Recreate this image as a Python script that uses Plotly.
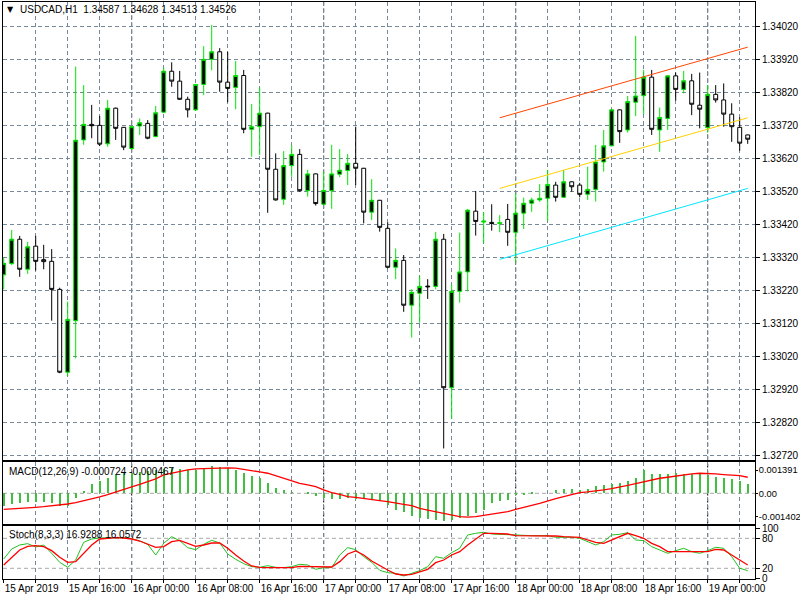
import plotly.graph_objects as go

TITLE = "USDCAD,H1  1.34587 1.34628 1.34513 1.34526"
MACD_LABEL = "MACD(12,26,9) -0.000724 -0.000467"
STOCH_LABEL = "Stoch(8,3,3) 16.9288 16.0572"

TIME_LABELS = ["15 Apr 2019", "15 Apr 16:00", "16 Apr 00:00", "16 Apr 08:00",
               "16 Apr 16:00", "17 Apr 00:00", "17 Apr 08:00", "17 Apr 16:00",
               "18 Apr 00:00", "18 Apr 08:00", "18 Apr 16:00", "19 Apr 00:00"]
BARS_PER_LABEL = 8
BARS_PER_GRID = 4
DAY_STARTS = [16, 40, 64, 88]

OPEN = [1.33268, 1.33302, 1.33376, 1.33285, 1.33355, 1.33314, 1.33309, 1.33224, 1.32973, 1.33129,
        1.33677, 1.33724, 1.33721, 1.33665, 1.33773, 1.33715, 1.33651, 1.33719, 1.33727, 1.33687,
        1.33761, 1.33885, 1.33855, 1.33800, 1.33768, 1.33845, 1.33921, 1.33944, 1.33852, 1.33836,
        1.33872, 1.33709, 1.33717, 1.33758, 1.33588, 1.33497, 1.33599, 1.33633, 1.33523, 1.33574,
        1.33482, 1.33523, 1.33573, 1.33584, 1.33606, 1.33591, 1.33458, 1.33494, 1.33409, 1.33291,
        1.33312, 1.33176, 1.33212, 1.33234, 1.33233, 1.33376, 1.32926, 1.33218, 1.33277, 1.33461,
        1.33428, 1.33427, 1.33424, 1.33436, 1.33397, 1.33455, 1.33485, 1.33495, 1.33500, 1.33540,
        1.33503, 1.33550, 1.33540, 1.33512, 1.33527, 1.33610, 1.33659, 1.33768, 1.33707, 1.33791,
        1.33811, 1.33867, 1.33707, 1.33742, 1.33871, 1.33830, 1.33856, 1.33782, 1.33714, 1.33815,
        1.33798, 1.33755, 1.33715, 1.33692]
HIGH = [1.33321, 1.33404, 1.33386, 1.33368, 1.33386, 1.33359, 1.33346, 1.33229, 1.33187, 1.33899,
        1.33843, 1.33783, 1.33749, 1.33798, 1.33775, 1.33716, 1.33719, 1.33742, 1.33737, 1.33780,
        1.33896, 1.33912, 1.33886, 1.33808, 1.33846, 1.33961, 1.34025, 1.33955, 1.33944, 1.33916,
        1.33889, 1.33786, 1.33836, 1.33759, 1.33636, 1.33643, 1.33661, 1.33649, 1.33586, 1.33575,
        1.33581, 1.33662, 1.33649, 1.33634, 1.33717, 1.33592, 1.33558, 1.33495, 1.33427, 1.33348,
        1.33328, 1.33224, 1.33265, 1.33255, 1.33398, 1.33392, 1.33239, 1.33396, 1.33468, 1.33522,
        1.33458, 1.33482, 1.33449, 1.33483, 1.33515, 1.33502, 1.33502, 1.33543, 1.33586, 1.33550,
        1.33586, 1.33551, 1.33547, 1.33596, 1.33662, 1.33707, 1.33769, 1.33769, 1.33810, 1.33992,
        1.33889, 1.33889, 1.33775, 1.33872, 1.33881, 1.33886, 1.33877, 1.33881, 1.33843, 1.33843,
        1.33848, 1.33788, 1.33745, 1.33693]
LOW = [1.33224, 1.33298, 1.33262, 1.33271, 1.33281, 1.33285, 1.33129, 1.32970, 1.32961, 1.33015,
       1.33662, 1.33682, 1.33658, 1.33656, 1.33677, 1.33646, 1.33646, 1.33692, 1.33679, 1.33685,
       1.33758, 1.33838, 1.33798, 1.33745, 1.33765, 1.33813, 1.33888, 1.33823, 1.33791, 1.33770,
       1.33697, 1.33626, 1.33631, 1.33456, 1.33493, 1.33480, 1.33565, 1.33520, 1.33505, 1.33478,
       1.33479, 1.33468, 1.33564, 1.33540, 1.33540, 1.33424, 1.33434, 1.33399, 1.33288, 1.33255,
       1.33156, 1.33078, 1.33123, 1.33195, 1.33224, 1.32742, 1.32832, 1.33184, 1.33218, 1.33387,
       1.33364, 1.33402, 1.33397, 1.33356, 1.33306, 1.33407, 1.33459, 1.33489, 1.33432, 1.33490,
       1.33502, 1.33520, 1.33503, 1.33495, 1.33490, 1.33581, 1.33658, 1.33668, 1.33699, 1.33749,
       1.33755, 1.33692, 1.33641, 1.33707, 1.33796, 1.33818, 1.33752, 1.33712, 1.33699, 1.33790,
       1.33717, 1.33671, 1.33644, 1.33665]
CLOSE = [1.33303, 1.33376, 1.33285, 1.33353, 1.33309, 1.33308, 1.33224, 1.32973, 1.33133, 1.33676,
         1.33724, 1.33720, 1.33664, 1.33773, 1.33712, 1.33655, 1.33717, 1.33729, 1.33682, 1.33759,
         1.33885, 1.33855, 1.33800, 1.33768, 1.33845, 1.33921, 1.33944, 1.33852, 1.33833, 1.33872,
         1.33709, 1.33717, 1.33758, 1.33588, 1.33495, 1.33599, 1.33633, 1.33523, 1.33574, 1.33484,
         1.33524, 1.33574, 1.33585, 1.33606, 1.33591, 1.33458, 1.33494, 1.33412, 1.33291, 1.33312,
         1.33176, 1.33215, 1.33233, 1.33232, 1.33376, 1.32926, 1.33218, 1.33277, 1.33464, 1.33430,
         1.33431, 1.33424, 1.33426, 1.33397, 1.33455, 1.33485, 1.33495, 1.33500, 1.33542, 1.33503,
         1.33550, 1.33535, 1.33512, 1.33527, 1.33610, 1.33659, 1.33768, 1.33702, 1.33793, 1.33810,
         1.33867, 1.33709, 1.33745, 1.33871, 1.33830, 1.33856, 1.33785, 1.33770, 1.33815, 1.33798,
         1.33755, 1.33717, 1.33667, 1.33679]

CHANNEL_BARS = [62, 93]
CHANNEL_UPPER = [1.33744, 1.33958]
CHANNEL_MID = [1.33530, 1.33744]
CHANNEL_LOWER = [1.33315, 1.33530]

MACD_HIST = [-0.00080, -0.00066, -0.00060, -0.00056, -0.00056, -0.00056, -0.00060, -0.00076, -0.00080, -0.00030,
             0.00010, 0.00050, 0.00070, 0.00090, 0.00110, 0.00116, 0.00120, 0.00124, 0.00130, 0.00134,
             0.00140, 0.00146, 0.00140, 0.00134, 0.00134, 0.00150, 0.00160, 0.00156, 0.00150, 0.00134,
             0.00116, 0.00100, 0.00090, 0.00060, 0.00026, 0.00014, 0.00002, 0.00000, -0.00010, -0.00020,
             -0.00030, -0.00036, -0.00036, -0.00030, -0.00036, -0.00040, -0.00040, -0.00050, -0.00075, -0.00100,
             -0.00116, -0.00136, -0.00150, -0.00156, -0.00164, -0.00166, -0.00160, -0.00150, -0.00136, -0.00120,
             -0.00100, -0.00060, -0.00050, -0.00044, -0.00016, -0.00016, -0.00006, 0.00000, 0.00000, 0.00014,
             0.00020, 0.00024, 0.00014, 0.00020, 0.00040, 0.00044, 0.00050, 0.00060, 0.00070, 0.00090,
             0.00136, 0.00110, 0.00110, 0.00110, 0.00116, 0.00110, 0.00110, 0.00110, 0.00104, 0.00096,
             0.00090, 0.00080, 0.00070, 0.00050]
MACD_SIGNAL = [-0.00096, -0.00094, -0.00092, -0.00088, -0.00084, -0.00080, -0.00076, -0.00070, -0.00064, -0.00056,
               -0.00046, -0.00036, -0.00022, -0.00008, 0.00006, 0.00020, 0.00038, 0.00054, 0.00070, 0.00086,
               0.00110, 0.00120, 0.00132, 0.00140, 0.00146, 0.00148, 0.00152, 0.00154, 0.00152, 0.00150,
               0.00144, 0.00136, 0.00128, 0.00120, 0.00104, 0.00090, 0.00074, 0.00060, 0.00050, 0.00040,
               0.00020, 0.00004, -0.00006, -0.00020, -0.00024, -0.00032, -0.00036, -0.00044, -0.00050, -0.00056,
               -0.00066, -0.00074, -0.00090, -0.00100, -0.00110, -0.00120, -0.00130, -0.00140, -0.00142, -0.00140,
               -0.00132, -0.00126, -0.00120, -0.00110, -0.00096, -0.00086, -0.00072, -0.00060, -0.00044, -0.00032,
               -0.00020, -0.00008, 0.00004, 0.00008, 0.00012, 0.00020, 0.00028, 0.00040, 0.00048, 0.00058,
               0.00070, 0.00080, 0.00090, 0.00096, 0.00104, 0.00110, 0.00116, 0.00120, 0.00120, 0.00116,
               0.00112, 0.00110, 0.00106, 0.00096]
MACD_SCALE = [0.001391, 0.0, -0.001402]
MACD_SCALE_TEXT = ["0.001391", "0.00", "-0.001402"]

STOCH_K = [38.6, 58.6, 66.6, 69.3, 62.6, 66.6, 50.0, 32.0, 22.0, 36.6,
           72.0, 78.6, 80.6, 81.3, 81.3, 81.3, 79.3, 74.6, 68.0, 46.6,
           70.0, 83.3, 75.3, 61.3, 57.3, 68.0, 76.0, 70.6, 48.6, 38.0,
           29.3, 23.3, 22.0, 25.3, 22.0, 21.3, 23.3, 28.0, 26.6, 18.0,
           21.3, 21.3, 46.6, 61.3, 57.3, 43.3, 32.0, 16.0, 11.3, 10.0,
           4.6, 10.0, 15.3, 23.3, 43.3, 40.0, 51.3, 60.0, 86.6, 90.0,
           92.0, 88.6, 88.0, 86.6, 85.3, 85.3, 85.3, 85.3, 85.3, 82.0,
           82.0, 82.0, 80.0, 73.3, 66.6, 73.3, 86.6, 88.0, 91.3, 76.6,
           75.3, 63.3, 56.6, 50.0, 55.3, 60.0, 53.3, 50.0, 55.3, 62.0,
           60.0, 43.3, 20.0, 15.3]
STOCH_D = [26.6, 41.3, 56.6, 64.0, 65.3, 63.3, 55.3, 42.0, 32.0, 33.3,
           49.3, 66.6, 78.6, 80.6, 81.3, 80.6, 78.6, 74.6, 68.0, 62.0,
           63.3, 73.3, 76.0, 70.0, 64.0, 66.6, 70.6, 70.6, 60.0, 46.6,
           34.6, 24.6, 22.0, 21.3, 21.3, 21.3, 21.3, 24.0, 24.0, 23.3,
           22.6, 22.6, 33.3, 48.6, 54.6, 46.6, 34.6, 25.0, 16.6, 8.6,
           6.6, 8.0, 13.3, 18.0, 31.3, 36.6, 46.6, 53.3, 66.6, 78.0,
           90.0, 90.0, 90.0, 88.6, 85.3, 85.3, 85.3, 85.3, 85.3, 84.6,
           83.3, 83.3, 82.0, 76.6, 72.0, 70.0, 76.6, 83.3, 90.0, 85.3,
           80.0, 70.0, 63.3, 53.3, 53.3, 53.3, 53.3, 53.3, 53.3, 58.0,
           56.6, 46.6, 36.6, 26.6]
STOCH_SCALE = [100, 80, 20, 0]
STOCH_LEVELS = [80, 20]

GREEN = "#00E600"
HIST_GREEN = "#40BE40"
GRID = "#778899"
LEVEL = "#A9A9A9"
FONT = dict(family="Liberation Sans, Arial, sans-serif", size=10, color="black")
DASH = "4px,3px"

n = len(OPEN)
bars = list(range(n))
xr = [-0.0875, 93.9125]

fig = go.Figure()
fig.add_trace(go.Candlestick(
    x=bars, open=OPEN, high=HIGH, low=LOW, close=CLOSE,
    increasing=dict(line=dict(color=GREEN, width=1), fillcolor="black"),
    decreasing=dict(line=dict(color="black", width=1), fillcolor="white"),
    whiskerwidth=0, xaxis="x", yaxis="y", showlegend=False, hoverinfo="skip"))
for vals, col in [(CHANNEL_UPPER, "#FF4500"), (CHANNEL_MID, "#FFD000"), (CHANNEL_LOWER, "#00E5FF")]:
    fig.add_trace(go.Scatter(x=CHANNEL_BARS, y=vals, mode="lines",
                             line=dict(color=col, width=1), xaxis="x", yaxis="y",
                             showlegend=False, hoverinfo="skip"))

fig.add_trace(go.Bar(x=bars, y=MACD_HIST, width=0.16, marker=dict(color=HIST_GREEN, line=dict(width=0)),
                     xaxis="x2", yaxis="y2", showlegend=False, hoverinfo="skip"))
fig.add_trace(go.Scatter(x=bars, y=MACD_SIGNAL, mode="lines", line=dict(color="#FF0000", width=1.3),
                         xaxis="x2", yaxis="y2", showlegend=False, hoverinfo="skip"))

fig.add_trace(go.Scatter(x=bars, y=STOCH_K, mode="lines", line=dict(color="#22C022", width=1),
                         xaxis="x3", yaxis="y3", showlegend=False, hoverinfo="skip"))
fig.add_trace(go.Scatter(x=bars, y=STOCH_D, mode="lines", line=dict(color="#FF0000", width=1.3),
                         xaxis="x3", yaxis="y3", showlegend=False, hoverinfo="skip"))

common_x = dict(range=xr, showline=True, mirror=True, linecolor="black", linewidth=1,
                showgrid=True, gridcolor=GRID, griddash=DASH, gridwidth=1,
                zeroline=False, fixedrange=True, automargin=False)
common_y = dict(side="right", ticks="outside", ticklen=4, tickcolor="black",
                showline=True, mirror=True, linecolor="black", linewidth=1,
                zeroline=False, fixedrange=True, automargin=False)

grid_vals = list(range(0, n, BARS_PER_GRID))
grid_text = []
for v in grid_vals:
    k = v // BARS_PER_LABEL
    grid_text.append(TIME_LABELS[k] if v % BARS_PER_LABEL == 0 and k < len(TIME_LABELS) else "")

fig.update_layout(
    width=800, height=600,
    margin=dict(l=3, r=45, t=2, b=20, autoexpand=False),
    paper_bgcolor="white", plot_bgcolor="white",
    font=FONT, showlegend=False, bargap=0,
    xaxis=dict(common_x, domain=[0, 1], anchor="y", tickmode="linear", tick0=0, dtick=BARS_PER_GRID,
               showticklabels=False, ticks="", rangeslider=dict(visible=False)),
    yaxis=dict(common_y, domain=[0.20675, 1.0], anchor="x", range=[1.327055, 1.340948],
               tickmode="linear", tick0=1.3402, dtick=0.001, tickformat=".5f",
               showgrid=True, gridcolor=GRID, griddash=DASH),
    xaxis2=dict(common_x, domain=[0, 1], anchor="y2", tickmode="linear", tick0=0, dtick=BARS_PER_GRID,
                showticklabels=False, ticks=""),
    yaxis2=dict(common_y, domain=[0.09775, 0.20329], anchor="x2", range=[-0.001806, 0.001842],
                tickmode="array", tickvals=MACD_SCALE, ticktext=MACD_SCALE_TEXT, showgrid=False,
                ticklen=2, tickfont=dict(family=FONT["family"], size=9.3, color="black"),
                ticklabelstandoff=-1),
    xaxis3=dict(common_x, domain=[0, 1], anchor="y3", tickmode="array", tickvals=grid_vals, ticktext=grid_text,
                ticks="outside", ticklen=3, tickcolor="black", ticklabelposition="outside right",
                tickangle=0),
    yaxis3=dict(common_y, domain=[0.00173, 0.09343], anchor="x3", range=[-1.4, 104.6],
                tickmode="array", tickvals=STOCH_SCALE, ticktext=[str(v) for v in STOCH_SCALE],
                showgrid=False),
)

shapes = []
for d in DAY_STARTS:
    for xa, ya in [("x", "y domain"), ("x2", "y2 domain"), ("x3", "y3 domain")]:
        shapes.append(dict(type="line", xref=xa, yref=ya, x0=d, x1=d, y0=0, y1=1,
                           line=dict(color="black", width=1, dash=DASH), layer="below"))
shapes.append(dict(type="line", xref="x2 domain", yref="y2", x0=0, x1=1, y0=0, y1=0,
                   line=dict(color=LEVEL, width=1, dash=DASH), layer="below"))
for lv in STOCH_LEVELS:
    shapes.append(dict(type="line", xref="x3 domain", yref="y3", x0=0, x1=1, y0=lv, y1=lv,
                       line=dict(color=LEVEL, width=1, dash=DASH), layer="below"))
fig.update_layout(shapes=shapes)

ann = [
    dict(text="\u25BC", x=0.0030, y=0.9862, xref="paper", yref="paper", xanchor="left", yanchor="middle",
         showarrow=False, font=dict(family="DejaVu Sans", size=8, color="black")),
    dict(text=TITLE, x=0.0205, y=0.9862, xref="paper", yref="paper", xanchor="left", yanchor="middle",
         showarrow=False, font=FONT),
    dict(text=MACD_LABEL, x=0.0055, y=0.1877, xref="paper", yref="paper", xanchor="left", yanchor="middle",
         showarrow=False, font=FONT),
    dict(text=STOCH_LABEL, x=0.0055, y=0.0779, xref="paper", yref="paper", xanchor="left", yanchor="middle",
         showarrow=False, font=FONT),
]
fig.update_layout(annotations=ann)

fig.write_html("out.html", config={"displayModeBar": False},
               post_script="document.body.style.margin='0';document.body.style.overflow='hidden';")
